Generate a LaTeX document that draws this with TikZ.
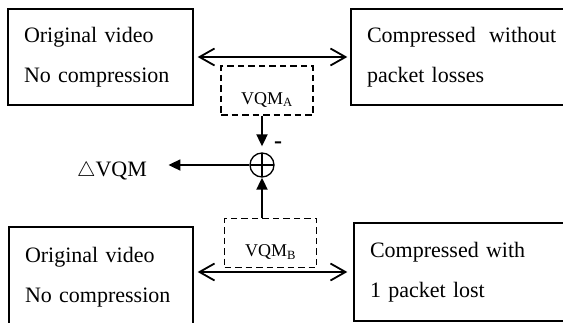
\documentclass[tikz,border=0pt]{standalone}
\usepackage{fontspec}
\setmainfont{Liberation Serif}
\usetikzlibrary{arrows.meta}

\begin{document}
\begin{tikzpicture}[x=1pt, y=-1pt,
    videobox/.style={draw, line width=1.4pt, align=left, text width=#1,
        inner xsep=16pt, inner ysep=0pt, font=\fontsize{22}{40}\selectfont},
    vqmbox/.style={draw, line width=1.4pt, dash pattern=on 6.5pt off 4pt,
        minimum width=92pt, minimum height=49pt, inner sep=0pt, text height=30pt,
        font=\fontsize{18}{20}\selectfont},
    sumnode/.style={draw, circle, line width=1.3pt, minimum size=24pt, inner sep=0pt,
        path picture={\draw[line width=1.3pt]
            (path picture bounding box.north) -- (path picture bounding box.south)
            (path picture bounding box.west) -- (path picture bounding box.east);}},
    bothway/.style={{Straight Barb[length=15pt,width=17pt]}-{Straight Barb[length=15pt,width=17pt]}, line width=1.8pt},
    oneway/.style={-{Triangle[length=12pt,width=11pt]}, line width=1.8pt}
]
    \path[use as bounding box, clip] (0,0) rectangle (563,322);

    % Pair A
    \node[videobox=153pt, minimum height=96pt] (origA) at (100.5,57) {Original video\\No compression};
    \node[videobox=192pt, minimum height=96pt] (compA) at (463,57) {Compressed\hspace{6pt} without\\packet losses};
    \node[vqmbox] (vqmA) at (267,90.5) {VQM\textsubscript{A}};

    % Pair B
    \node[videobox=152pt, minimum height=100pt] (origB) at (101,277) {Original video\\No compression};
    \node[videobox=189pt, minimum height=98pt] (compB) at (464.5,272) {Compressed with\\1 packet lost};
    \node[vqmbox] (vqmB) at (270.5,243) {VQM\textsubscript{B}};

    % Difference
    \node[sumnode] (sum) at (262,165) {};
    \node[font=\fontsize{24}{24}\bfseries] (minus) at (278,145) {-};
    \node[font=\fontsize{22}{24}\selectfont] (dvqm) at (112,171) {$\triangle$VQM};

    \draw[bothway, shorten <=4pt, shorten >=3pt] (origA.east) -- (compA.west);
    \draw[bothway, shorten <=4pt, shorten >=6pt] (origB.east |- compB.west) -- (compB.west);
    \draw[oneway, shorten >=6pt] (sum |- vqmA.south) -- (sum.north);
    \draw[oneway] (sum |- vqmB.north) -- (sum.south);
    \draw[oneway, shorten >=18pt] (sum.west) -- (dvqm.east |- sum.west);
\end{tikzpicture}
\end{document}
